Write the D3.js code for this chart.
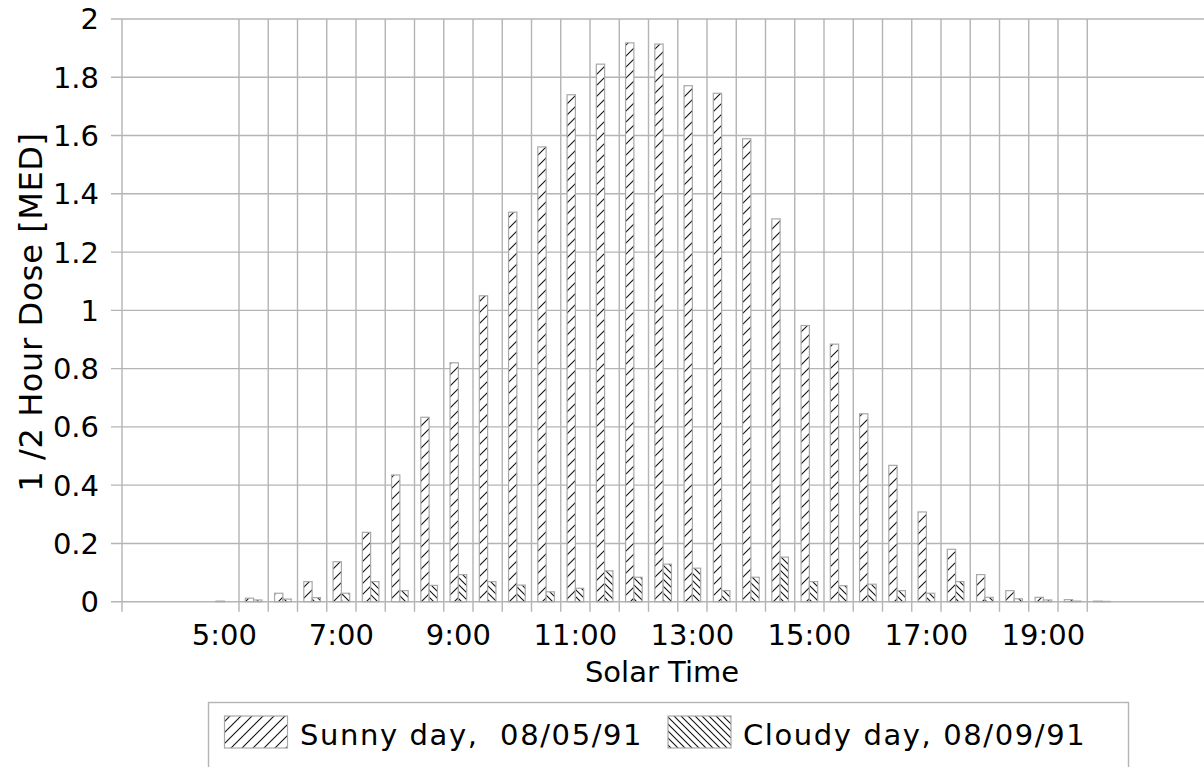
<!DOCTYPE html>
<html>
<head>
<meta charset="utf-8">
<script src="https://cdn.jsdelivr.net/npm/d3@7"></script>
<style>
  html, body { margin: 0; padding: 0; background: #fff; }
  svg { display: block; }
  text { font-family: "DejaVu Sans", sans-serif; fill: #000; }
</style>
</head>
<body>
<svg id="chart" width="1204" height="767"></svg>
<script>
// ---- data ----
const times = ["3:30","4:00","4:30","5:00","5:30","6:00","6:30","7:00","7:30","8:00",
  "8:30","9:00","9:30","10:00","10:30","11:00","11:30","12:00","12:30","13:00",
  "13:30","14:00","14:30","15:00","15:30","16:00","16:30","17:00","17:30","18:00",
  "18:30","19:00","19:30","20:00","20:30","21:00","21:30"];
const sunny = [0,0,0,0.002,0.012,0.029,0.069,0.137,0.238,0.435,
  0.633,0.82,1.05,1.337,1.561,1.74,1.845,1.918,1.914,1.771,
  1.745,1.589,1.314,0.948,0.884,0.645,0.468,0.308,0.18,0.093,
  0.038,0.015,0.007,0.002,0,0,0];
const cloudy = [0,0,0,0,0.006,0.009,0.014,0.029,0.069,0.038,
  0.056,0.093,0.069,0.057,0.034,0.046,0.106,0.084,0.129,0.115,
  0.038,0.084,0.153,0.069,0.055,0.06,0.038,0.029,0.069,0.015,
  0.01,0.006,0.002,0.001,0,0,0];
const seriesNames = ["Sunny day,  08/05/91", "Cloudy day, 08/09/91"];
const xTickLabels = ["5:00","7:00","9:00","11:00","13:00","15:00","17:00","19:00"];
const yTicks = [0,0.2,0.4,0.6,0.8,1,1.2,1.4,1.6,1.8,2];
const gridFrom = "5:30", gridTo = "20:00";
const xTitle = "Solar Time";
const yTitle = "1 /2 Hour Dose [MED]";

(function () {
// ---- layout ----
const pLeft = 122, pRight = 1204.25, pTop = 19, pBottom = 601.7;
const gridColor = "#b4b4b4";

const svg = d3.select("#chart");
const defs = svg.append("defs");

function hatch(id, size, d) {
  const p = defs.append("pattern").attr("id", id)
    .attr("patternUnits", "userSpaceOnUse").attr("width", size).attr("height", size);
  p.append("rect").attr("width", size).attr("height", size).attr("fill", "#fff");
  p.append("path").attr("d", d).attr("stroke", "#111").attr("stroke-width", 1.1).attr("fill", "none");
}
hatch("hSunny", 11, "M0,11 L11,0 M-3,3 L3,-3 M8,14 L14,8");
hatch("hCloudy", 7, "M0,0 L7,7 M-3,4 L3,10 M4,-3 L10,3");

const x = d3.scaleBand().domain(times).range([pLeft, pRight]).paddingInner(0).paddingOuter(0);
const xs = d3.scaleBand().domain(["sunny","cloudy"]).range([0, x.bandwidth()]).paddingInner(0).paddingOuter(0.76);
const y = d3.scaleLinear().domain([0, 2]).range([pBottom, pTop]);

// horizontal grid
svg.append("g").selectAll("line").data(yTicks).join("line")
  .attr("x1", 111).attr("x2", 1204)
  .attr("y1", d => y(d)).attr("y2", d => y(d))
  .attr("stroke", gridColor).attr("stroke-width", 1.4);

// vertical grid (band boundaries) + left axis
const i0 = times.indexOf(gridFrom), i1 = times.indexOf(gridTo);
const vgrid = [pLeft].concat(times.slice(i0, i1 + 1).map(t => x(t)));
svg.append("g").selectAll("line").data(vgrid).join("line")
  .attr("x1", d => d).attr("x2", d => d)
  .attr("y1", pTop).attr("y2", pBottom + 10)
  .attr("stroke", gridColor).attr("stroke-width", 1.4);

// bars
const data = times.map((t, i) => ({ t, sunny: sunny[i], cloudy: cloudy[i] }));
const barG = svg.append("g");
[["sunny", "url(#hSunny)"], ["cloudy", "url(#hCloudy)"]].forEach(([k, fill]) => {
  barG.selectAll("rect." + k).data(data.filter(d => d[k] > 0)).join("rect")
    .attr("class", k)
    .attr("x", d => x(d.t) + xs(k))
    .attr("width", xs.bandwidth())
    .attr("y", d => y(d[k]))
    .attr("height", d => y(0) - y(d[k]))
    .attr("fill", fill)
    .attr("stroke", "#a8a8a8").attr("stroke-width", 1.2);
});

// y tick labels
svg.append("g").selectAll("text").data(yTicks).join("text")
  .attr("x", 99).attr("y", d => y(d)).attr("dy", "0.36em")
  .attr("text-anchor", "end").attr("font-size", 29)
  .text(d => d3.format("~g")(d));

// x tick labels
svg.append("g").selectAll("text").data(xTickLabels).join("text")
  .attr("x", d => x(d) + x.bandwidth() / 2).attr("y", 645)
  .attr("text-anchor", "middle").attr("font-size", 29)
  .text(d => d);

// axis titles
svg.append("text").attr("x", 662).attr("y", 682)
  .attr("text-anchor", "middle").attr("font-size", 29).text(xTitle);
svg.append("text").attr("transform", "translate(42,312) rotate(-90)")
  .attr("text-anchor", "middle").attr("font-size", 32).attr("letter-spacing", 0.6).text(yTitle);

// legend
const lg = svg.append("g");
lg.append("rect").attr("x", 208.5).attr("y", 702.5).attr("width", 920).attr("height", 90)
  .attr("fill", "#fff").attr("stroke", gridColor).attr("stroke-width", 1.4);
const legendItems = [
  { name: seriesNames[0], fill: "url(#hSunny)", sx: 224.5, tx: 300 },
  { name: seriesNames[1], fill: "url(#hCloudy)", sx: 668, tx: 743 }
];
legendItems.forEach(it => {
  lg.append("rect").attr("x", it.sx).attr("y", 716).attr("width", 63).attr("height", 32)
    .attr("fill", it.fill).attr("stroke", "#a8a8a8").attr("stroke-width", 1.2);
  lg.append("text").attr("x", it.tx).attr("y", 745).attr("font-size", 29)
    .attr("letter-spacing", 1.6).style("white-space", "pre").text(it.name);
});
})();
</script>
</body>
</html>
